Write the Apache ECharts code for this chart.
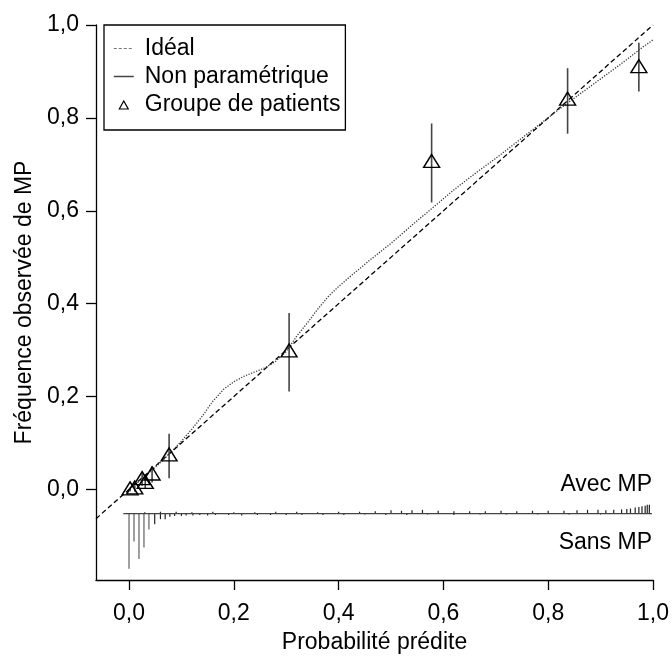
<!DOCTYPE html>
<html>
<head>
<meta charset="utf-8">
<script src="https://cdn.jsdelivr.net/npm/echarts@6/dist/echarts.min.js"></script>
<style>
html,body{margin:0;padding:0;background:#fff;}
#chart{width:672px;height:659px;}
</style>
</head>
<body>
<div id="chart"></div>
<script>
// ---- data ----
const xTicks = [0, 0.2, 0.4, 0.6, 0.8, 1.0];
const yTicks = [0, 0.2, 0.4, 0.6, 0.8, 1.0];
const idealX = [-0.063, 1.0];
const idealY = [-0.063, 1.0];
const curveX = [0.00,0.02,0.04,0.06,0.08,0.10,0.12,0.14,0.16,0.18,0.20,0.22,0.24,0.26,0.28,0.30,0.32,0.34,0.36,0.38,0.40,0.43,0.46,0.50,0.54,0.58,0.62,0.66,0.70,0.74,0.78,0.82,0.86,0.90,0.94,0.98,1.00];
const curveY = [0.000,0.018,0.038,0.058,0.080,0.104,0.130,0.158,0.190,0.215,0.232,0.244,0.253,0.262,0.276,0.297,0.330,0.358,0.388,0.415,0.437,0.466,0.494,0.530,0.569,0.607,0.645,0.680,0.713,0.748,0.783,0.818,0.851,0.884,0.917,0.952,0.968];
const groupX = [0.002, 0.011, 0.025, 0.031, 0.044, 0.0765, 0.3055, 0.5775, 0.837, 0.973];
const groupY = [-0.002, 0.000, 0.020, 0.012, 0.030, 0.071, 0.295, 0.703, 0.837, 0.907];
const groupLow = [-0.004, -0.005, 0.008, 0.002, 0.015, 0.024, 0.211, 0.618, 0.766, 0.857];
const groupHigh = [0.004, 0.008, 0.035, 0.025, 0.050, 0.120, 0.380, 0.788, 0.907, 0.962];
const spikeBase = -0.052;
const baseX = [-0.011, 0.998];
const sansX = [0.000,0.0095,0.019,0.0285,0.038,0.049,0.060,0.069,0.078,0.087,0.100,0.109,0.122,0.135,0.15,0.165,0.19,0.215,0.245,0.27,0.3,0.33,0.37,0.41,0.45,0.49,0.53,0.57,0.62,0.67,0.72,0.78,0.84,0.9];
const sansH = [0.119,0.060,0.098,0.073,0.034,0.023,0.012,0.012,0.007,0.005,0.005,0.004,0.004,0.003,0.004,0.003,0.003,0.004,0.003,0.003,0.003,0.003,0.003,0.003,0.002,0.003,0.003,0.002,0.003,0.002,0.002,0.002,0.002,0.002];
const avecX = [0.03,0.06,0.09,0.12,0.16,0.2,0.24,0.28,0.32,0.36,0.4,0.44,0.47,0.5,0.52,0.54,0.56,0.59,0.62,0.65,0.68,0.71,0.74,0.77,0.8,0.83,0.855,0.875,0.895,0.91,0.925,0.94,0.95,0.957,0.966,0.973,0.979,0.985,0.989,0.993];
const avecH = [0.003,0.004,0.004,0.003,0.004,0.003,0.003,0.004,0.004,0.003,0.004,0.004,0.005,0.007,0.006,0.007,0.008,0.006,0.005,0.005,0.005,0.006,0.005,0.006,0.006,0.006,0.007,0.008,0.008,0.007,0.008,0.009,0.010,0.011,0.013,0.014,0.016,0.017,0.019,0.019];

// ---- build ----
const FONT = "'Liberation Sans', Arial, sans-serif";
const fmt = v => Number(v).toFixed(1).replace('.', ',');
const zip = (a, b) => a.map((v, i) => [v, b[i]]);
const errData = groupX.map((x, i) => [x, groupLow[i], groupHigh[i]]);
const spikeData = sansX.map((x, i) => [x, spikeBase, spikeBase - sansH[i]])
  .concat(avecX.map((x, i) => [x, spikeBase, spikeBase + avecH[i]]));

const vSeg = (colorFn, widthFn) => function (params, api) {
  const x = api.value(0), a = api.value(1), b = api.value(2);
  const p1 = api.coord([x, a]), p2 = api.coord([x, b]);
  const len = Math.abs(b - a);
  return {
    type: 'line',
    shape: { x1: p1[0], y1: p1[1], x2: p2[0], y2: p2[1] },
    style: { stroke: colorFn(len), lineWidth: widthFn(len) }
  };
};

const hiddenSym = { color: 'rgba(0,0,0,0)', borderColor: 'rgba(0,0,0,0)', borderWidth: 0, opacity: 0 };

const chart = echarts.init(document.getElementById('chart'), null, { renderer: 'canvas' });
chart.setOption({
  animation: false,
  backgroundColor: '#fff',
  grid: { left: 96, right: 16, top: 25, bottom: 75, containLabel: false },
  legend: {
    orient: 'vertical', left: 104, top: 25,
    padding: [12, 5, 14, 9],
    itemGap: 5, itemWidth: 20, itemHeight: 10,
    borderColor: '#000', borderWidth: 1.3,
    textStyle: { fontSize: 23, fontFamily: FONT, color: '#000', padding: [0, 0, 0, 6] },
    data: [
      { name: 'Idéal', lineStyle: { type: [3, 2], color: '#777', width: 1 }, itemStyle: hiddenSym },
      { name: 'Non paramétrique', lineStyle: { type: 'solid', color: '#444', width: 1.5 }, itemStyle: hiddenSym },
      { name: 'Groupe de patients', icon: 'path://M0,0 M20,10 M5.5,9.5 L10,1.5 L14.5,9.5 Z',
        itemStyle: { color: 'rgba(0,0,0,0)', borderColor: '#000', borderWidth: 1.2 } }
    ]
  },
  xAxis: {
    type: 'value', min: -0.063, max: 1.0,
    name: 'Probabilité prédite', nameLocation: 'middle', nameGap: 51,
    nameTextStyle: { fontSize: 23, fontFamily: FONT, color: '#000' },
    axisLine: { show: true, onZero: false, lineStyle: { color: '#000', width: 1.3 } },
    axisTick: { show: true, length: 10, customValues: xTicks, lineStyle: { color: '#000', width: 1.3 } },
    axisLabel: { customValues: xTicks, formatter: fmt, margin: 22, fontSize: 23, fontFamily: FONT, color: '#000' },
    splitLine: { show: false }
  },
  yAxis: {
    type: 'value', min: -0.195, max: 1.0,
    name: 'Fréquence observée de MP', nameLocation: 'middle', nameGap: 60,
    nameTextStyle: { fontSize: 23, fontFamily: FONT, color: '#000' },
    axisLine: { show: true, onZero: false, lineStyle: { color: '#000', width: 1.3 } },
    axisTick: { show: true, length: 10, customValues: yTicks, lineStyle: { color: '#000', width: 1.3 } },
    axisLabel: { customValues: yTicks, formatter: fmt, margin: 17, fontSize: 23, fontFamily: FONT, color: '#000',
      padding: [0, 0, 6, 0] },
    splitLine: { show: false }
  },
  graphic: [
    { type: 'text', x: 652, y: 485, silent: true,
      style: { text: 'Avec MP', fontSize: 23, fontFamily: FONT, fill: '#000', align: 'right', verticalAlign: 'middle', textAlign: 'right', textVerticalAlign: 'middle' } },
    { type: 'text', x: 652, y: 543, silent: true,
      style: { text: 'Sans MP', fontSize: 23, fontFamily: FONT, fill: '#000', align: 'right', verticalAlign: 'middle', textAlign: 'right', textVerticalAlign: 'middle' } }
  ],
  series: [
    {
      name: 'Idéal', type: 'line', data: zip(idealX, idealY), symbol: 'none', z: 3,
      lineStyle: { color: '#000', width: 1.3, type: [5, 3] }, itemStyle: { color: '#000' }
    },
    {
      name: 'Non paramétrique', type: 'line', data: zip(curveX, curveY), symbol: 'none', z: 3,
      lineStyle: { color: '#333', width: 1.3, type: [1.2, 1.5] }, itemStyle: { color: '#333' }
    },
    {
      name: 'errbars', type: 'custom', data: errData, z: 4,
      encode: { x: 0, y: [1, 2] },
      renderItem: vSeg(() => '#444', () => 1.6)
    },
    {
      name: 'Groupe de patients', type: 'scatter', data: zip(groupX, groupY), z: 5,
      symbol: 'triangle', symbolSize: [16, 13], symbolOffset: [0, -2],
      itemStyle: { color: 'rgba(0,0,0,0)', borderColor: '#000', borderWidth: 1.4, opacity: 1 }
    },
    {
      name: 'base', type: 'line', data: zip(baseX, [spikeBase, spikeBase]), symbol: 'none', z: 2,
      lineStyle: { color: '#444', width: 1.3 }
    },
    {
      name: 'spikes', type: 'custom', data: spikeData, z: 2,
      encode: { x: 0, y: [1, 2] },
      renderItem: vSeg(len => len > 0.03 ? '#888' : '#222', len => len > 0.03 ? 1.6 : 1.2)
    }
  ]
});
</script>
</body>
</html>
